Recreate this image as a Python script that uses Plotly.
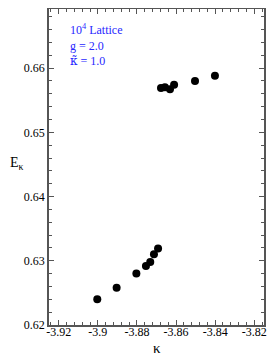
import plotly.graph_objects as go

# Data
kappa_upper = [-3.8677, -3.8657, -3.8631, -3.8610, -3.8503, -3.8401]
E_upper = [0.6569, 0.6570, 0.6567, 0.6574, 0.6580, 0.6588]
kappa_lower = [-3.9003, -3.8904, -3.8803, -3.8754, -3.8732, -3.8713, -3.8692]
E_lower = [0.6240, 0.6258, 0.6280, 0.6292, 0.6298, 0.6310, 0.6319]

x_ticks = [-3.92, -3.90, -3.88, -3.86, -3.84, -3.82]
x_tick_labels = ["-3.92", "-3.9", "-3.88", "-3.86", "-3.84", "-3.82"]
y_ticks = [0.62, 0.63, 0.64, 0.65, 0.66]
y_tick_labels = ["0.62", "0.63", "0.64", "0.65", "0.66"]

font_family = "Liberation Serif, DejaVu Serif, serif"

fig = go.Figure()
fig.add_trace(go.Scatter(
    x=kappa_upper + kappa_lower, y=E_upper + E_lower, mode="markers",
    marker=dict(size=8, color="black"), showlegend=False))

axis_common = dict(
    showline=True, linecolor="#555", linewidth=1.5, mirror="allticks",
    ticks="inside", ticklen=5, tickwidth=1, tickcolor="#555",
    showgrid=False, zeroline=False, automargin=False,
    tickfont=dict(family=font_family, size=12, color="black"),
)

fig.update_xaxes(range=[-3.925, -3.815], tickmode="array", tickvals=x_ticks,
                 ticktext=x_tick_labels, ticklabelstandoff=-5,
                 minor=dict(ticks="inside", ticklen=3, tickcolor="#555",
                            dtick=0.004, tick0=-3.92, showgrid=False),
                 **axis_common)
fig.update_yaxes(range=[0.62, 0.6692], tickmode="array", tickvals=y_ticks,
                 ticktext=y_tick_labels, ticklabelstandoff=0,
                 minor=dict(ticks="inside", ticklen=3, tickcolor="#555",
                            dtick=0.002, tick0=0.62, showgrid=False),
                 **axis_common)

blue = "rgb(40,40,255)"
fig.add_annotation(
    xref="paper", yref="paper", x=0.09, y=0.965, xanchor="left", yanchor="top",
    text="10<sup>4</sup> Lattice<br>g = 2.0<br>"
         "<span style='font-family:DejaVu Serif'>κ̃</span> = 1.0",
    showarrow=False,
    align="left", font=dict(family=font_family, size=12, color=blue))

fig.add_annotation(
    xref="paper", yref="paper", x=-0.19, y=0.51, xanchor="left", yanchor="middle",
    text="E<sub>κ</sub>", showarrow=False,
    font=dict(family=font_family, size=14, color="black"))
fig.add_annotation(
    xref="paper", yref="paper", x=0.5, y=-0.073, xanchor="center", yanchor="middle",
    text="κ", showarrow=False,
    font=dict(family=font_family, size=15, color="black"))

fig.update_layout(
    width=277, height=358,
    margin=dict(l=41, r=21, t=1, b=41, autoexpand=False),
    plot_bgcolor="white", paper_bgcolor="white",
)

fig.write_html("out.html")
